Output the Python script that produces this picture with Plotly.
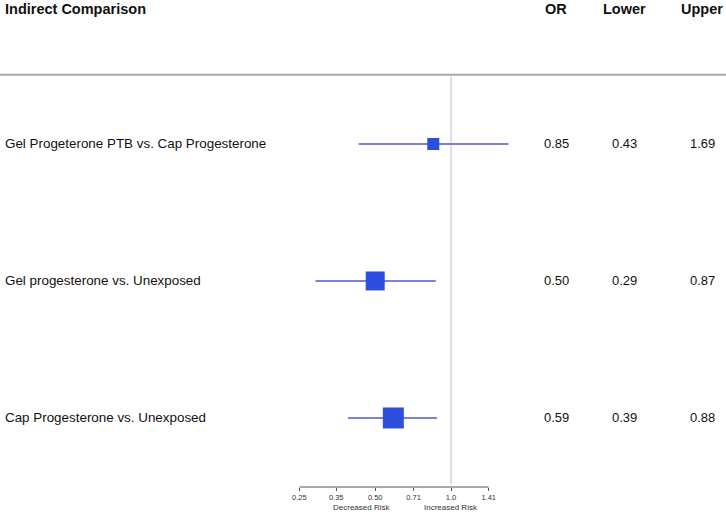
import math
import plotly.graph_objects as go

# ---- data ----
comparisons = [
    "Gel Progeterone PTB vs. Cap Progesterone",
    "Gel progesterone vs. Unexposed",
    "Cap Progesterone vs. Unexposed",
]
odds_ratio = [0.85, 0.50, 0.59]
lower_ci = [0.43, 0.29, 0.39]
upper_ci = [1.69, 0.87, 0.88]
box_sizes = [12, 19, 21]  # relative weight of each estimate (marker size)
tick_vals = [0.25, 0.35, 0.50, 0.71, 1.0, 1.41]
tick_text = ["0.25", "0.35", "0.50", "0.71", "1.0", "1.41"]
headers = ["Indirect Comparison", "OR", "Lower", "Upper"]

# ---- layout helpers ----
W, H = 726, 512
row_y = [3, 2, 1]
y_top, y_bot = 4.051, 0.496
x_range = [-1.790, 1.091]  # log10 range across full width
FONT = "Liberation Sans, Arial, Helvetica, sans-serif"
LINE_COL = "#7c80d8"
BOX_COL = "#2d4edf"

fig = go.Figure()

# CI lines
for lo, hi, y in zip(lower_ci, upper_ci, row_y):
    fig.add_trace(go.Scatter(x=[lo, hi], y=[y, y], mode="lines",
                             line=dict(color=LINE_COL, width=2),
                             hoverinfo="skip", showlegend=False))

# point estimates
fig.add_trace(go.Scatter(x=odds_ratio, y=row_y, mode="markers",
                         marker=dict(symbol="square", size=box_sizes, opacity=1,
                                     color=BOX_COL, line=dict(width=0)),
                         showlegend=False))

# reference line at OR = 1
fig.add_shape(type="line", xref="x", yref="y", x0=1, x1=1, y0=3.49, y1=y_bot + 0.02,
              line=dict(color="#d4d4d4", width=1.5), layer="below")
# header rule
fig.add_shape(type="line", xref="paper", yref="y", x0=0, x1=1, y0=3.505, y1=3.505,
              line=dict(color="#a8a8a8", width=2))
# axis line from first to last tick
fig.add_shape(type="line", xref="x", yref="paper", x0=tick_vals[0], x1=tick_vals[-1],
              y0=0, y1=0, line=dict(color="#555555", width=1))

# header texts
head_y = 3.985
col_x = [0.004, 0.766, 0.860, 0.967]
fig.add_annotation(text="<b>%s</b>" % headers[0], xref="paper", yref="y",
                   x=col_x[0], y=head_y, xanchor="left", yanchor="middle",
                   showarrow=False, font=dict(family=FONT, size=14.5, color="#111111"))
for h, cx in zip(headers[1:], col_x[1:]):
    fig.add_annotation(text="<b>%s</b>" % h, xref="paper", yref="y",
                       x=cx, y=head_y, xanchor="center", yanchor="middle",
                       showarrow=False, font=dict(family=FONT, size=14.5, color="#111111"))

# row texts
for name, orv, lo, hi, y in zip(comparisons, odds_ratio, lower_ci, upper_ci, row_y):
    fig.add_annotation(text=name, xref="paper", yref="y", x=col_x[0], y=y,
                       xanchor="left", yanchor="middle", showarrow=False,
                       font=dict(family=FONT, size=13.4, color="#111111"))
    for v, cx in zip([orv, lo, hi], col_x[1:]):
        fig.add_annotation(text="%.2f" % v, xref="paper", yref="y", x=cx, y=y,
                           xanchor="center", yanchor="middle", showarrow=False,
                           font=dict(family=FONT, size=13, color="#111111"))

# risk direction labels
fig.add_annotation(text="Decreased Risk", xref="paper", yref="paper",
                   x=361 / W, y=-20 / 487, xanchor="center", yanchor="middle",
                   showarrow=False, font=dict(family=FONT, size=8, color="#333333"))
fig.add_annotation(text="Increased Risk", xref="paper", yref="paper",
                   x=451 / W, y=-20 / 487, xanchor="center", yanchor="middle",
                   showarrow=False, font=dict(family=FONT, size=8, color="#333333"))

fig.update_layout(
    width=W, height=H,
    margin=dict(l=0, r=0, t=0, b=25, pad=0),
    paper_bgcolor="white", plot_bgcolor="white",
    showlegend=False,
    xaxis=dict(type="log", range=x_range, domain=[0, 1], showgrid=False,
               zeroline=False, showline=False, ticks="outside", ticklen=3,
               tickwidth=1, tickcolor="#555555", tickvals=tick_vals,
               ticktext=tick_text, tickfont=dict(family=FONT, size=7.5, color="#333333"),
               fixedrange=True),
    yaxis=dict(range=[y_bot, y_top], visible=False, fixedrange=True),
)

fig.write_html("out.html", config={"displayModeBar": False},
               post_script="document.body.style.margin='0';document.body.style.overflow='hidden';")
